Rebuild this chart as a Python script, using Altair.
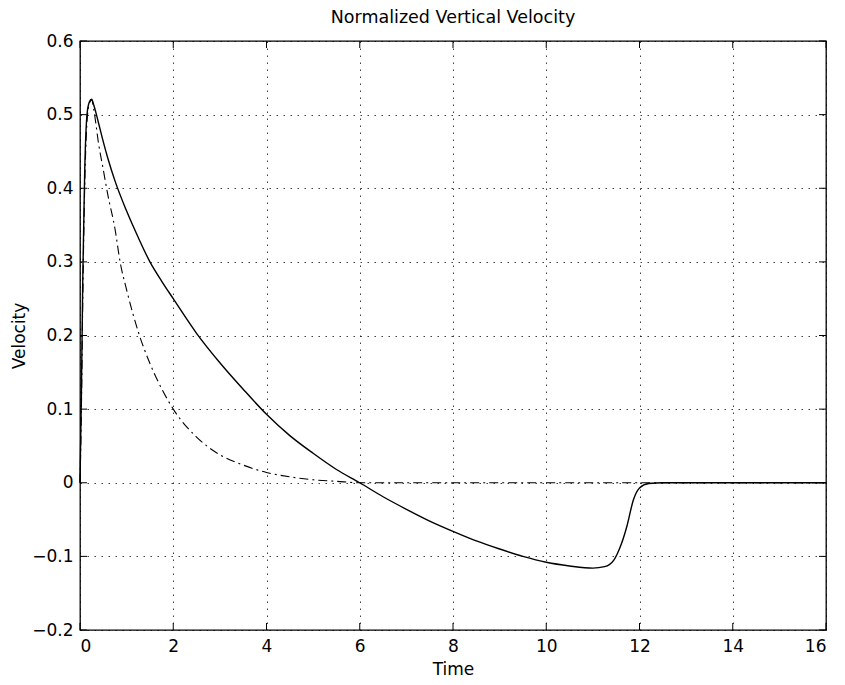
import altair as alt
import pandas as pd

# ---- data ----
t_solid = [0, 0.03, 0.06, 0.1, 0.15, 0.2, 0.25, 0.3, 0.4, 0.5, 0.6, 0.75, 1.0, 1.25,
           1.5, 1.75, 2.0, 2.5, 3.0, 3.5, 4.0, 4.5, 5.0, 5.5, 6.0, 6.5, 7.0, 7.5,
           8.0, 8.5, 9.0, 9.5, 10.0, 10.5, 11.0, 11.25, 11.45, 11.6, 11.73, 11.87,
           12.0, 12.2, 12.5, 13.0, 14.0, 15.0, 16.0]
v_solid = [0, 0.12, 0.28, 0.42, 0.50, 0.517, 0.521, 0.512, 0.488, 0.463, 0.44, 0.41,
           0.369, 0.333, 0.30, 0.274, 0.25, 0.203, 0.163, 0.127, 0.093, 0.064, 0.04,
           0.018, 0.0, -0.019, -0.036, -0.052, -0.066, -0.079, -0.09, -0.1, -0.108,
           -0.113, -0.116, -0.114, -0.105, -0.085, -0.059, -0.023, -0.007, -0.001,
           0, 0, 0, 0, 0]

t_dash = [0, 0.03, 0.06, 0.1, 0.15, 0.2, 0.25, 0.3, 0.4, 0.5, 0.6, 0.75, 0.86, 1.0,
          1.25, 1.5, 1.75, 2.0, 2.5, 3.0, 3.5, 4.0, 4.5, 5.0, 5.5, 6.0, 7.0, 8.0,
          10.0, 12.0, 14.0, 16.0]
v_dash = [0, 0.10, 0.25, 0.40, 0.49, 0.515, 0.52, 0.505, 0.46, 0.425, 0.39, 0.345,
          0.30, 0.262, 0.205, 0.162, 0.128, 0.10, 0.062, 0.038, 0.024, 0.014, 0.008,
          0.004, 0.002, 0.0, 0, 0, 0, 0, 0, 0]

x_ticks = [0, 2, 4, 6, 8, 10, 12, 14, 16]
y_ticks = [-0.2, -0.1, 0, 0.1, 0.2, 0.3, 0.4, 0.5, 0.6]

W, H = 746, 589
FONT = "DejaVu Sans"

solid = pd.DataFrame({"Time": t_solid, "Velocity": v_solid})
dash = pd.DataFrame({"Time": t_dash, "Velocity": v_dash})
xt = pd.DataFrame({"x": x_ticks})
yt = pd.DataFrame({"y": y_ticks})

xscale = alt.Scale(domain=[0, 16], nice=False, zero=False)
yscale = alt.Scale(domain=[-0.2, 0.6], nice=False, zero=False)

common = dict(grid=True, ticks=False, gridDash=[1.5, 5.5], gridColor="black",
              gridOpacity=0.75, domain=False, labelFont=FONT, titleFont=FONT,
              labelFontSize=17, titleFontSize=17, labelColor="black",
              titleColor="black", titleFontWeight="normal")
xaxis = alt.Axis(values=x_ticks, format="d", title="Time",
                 labelPadding=8, titlePadding=7, **common)
yaxis = alt.Axis(values=y_ticks, format=".1~f", title="Velocity",
                 labelPadding=7, titlePadding=3, **common)

base_solid = alt.Chart(solid).mark_line(color="black", strokeWidth=1.4, interpolate="monotone").encode(
    x=alt.X("Time:Q", scale=xscale, axis=xaxis),
    y=alt.Y("Velocity:Q", scale=yscale, axis=yaxis),
)
dash_line = alt.Chart(dash).mark_line(color="black", strokeWidth=1.1, strokeDash=[9, 4, 2, 4],
                                      interpolate="monotone").encode(
    x=alt.X("Time:Q", scale=xscale),
    y=alt.Y("Velocity:Q", scale=yscale),
)

TL = 7
xt_bottom = alt.Chart(xt).mark_rule(color="black", strokeWidth=1).encode(
    x=alt.X("x:Q", scale=xscale), y=alt.value(H), y2=alt.value(H - TL))
xt_top = alt.Chart(xt).mark_rule(color="black", strokeWidth=1).encode(
    x=alt.X("x:Q", scale=xscale), y=alt.value(0), y2=alt.value(TL))
yt_left = alt.Chart(yt).mark_rule(color="black", strokeWidth=1).encode(
    y=alt.Y("y:Q", scale=yscale), x=alt.value(0), x2=alt.value(TL))
yt_right = alt.Chart(yt).mark_rule(color="black", strokeWidth=1).encode(
    y=alt.Y("y:Q", scale=yscale), x=alt.value(W), x2=alt.value(W - TL))

chart = alt.layer(base_solid, dash_line, xt_bottom, xt_top, yt_left, yt_right).properties(
    width=W, height=H,
    title=alt.TitleParams("Normalized Vertical Velocity", fontSize=17.5, font=FONT,
                          fontWeight="normal", offset=6, anchor="middle", color="black"),
    autosize=alt.AutoSizeParams(type="none"),
    padding={"left": 80, "top": 41, "right": 19, "bottom": 55},
).configure(
    background="white"
).configure_view(
    stroke="black", strokeWidth=1.3
)

chart.save("out.html", embed_options={"renderer": "svg", "actions": False})
